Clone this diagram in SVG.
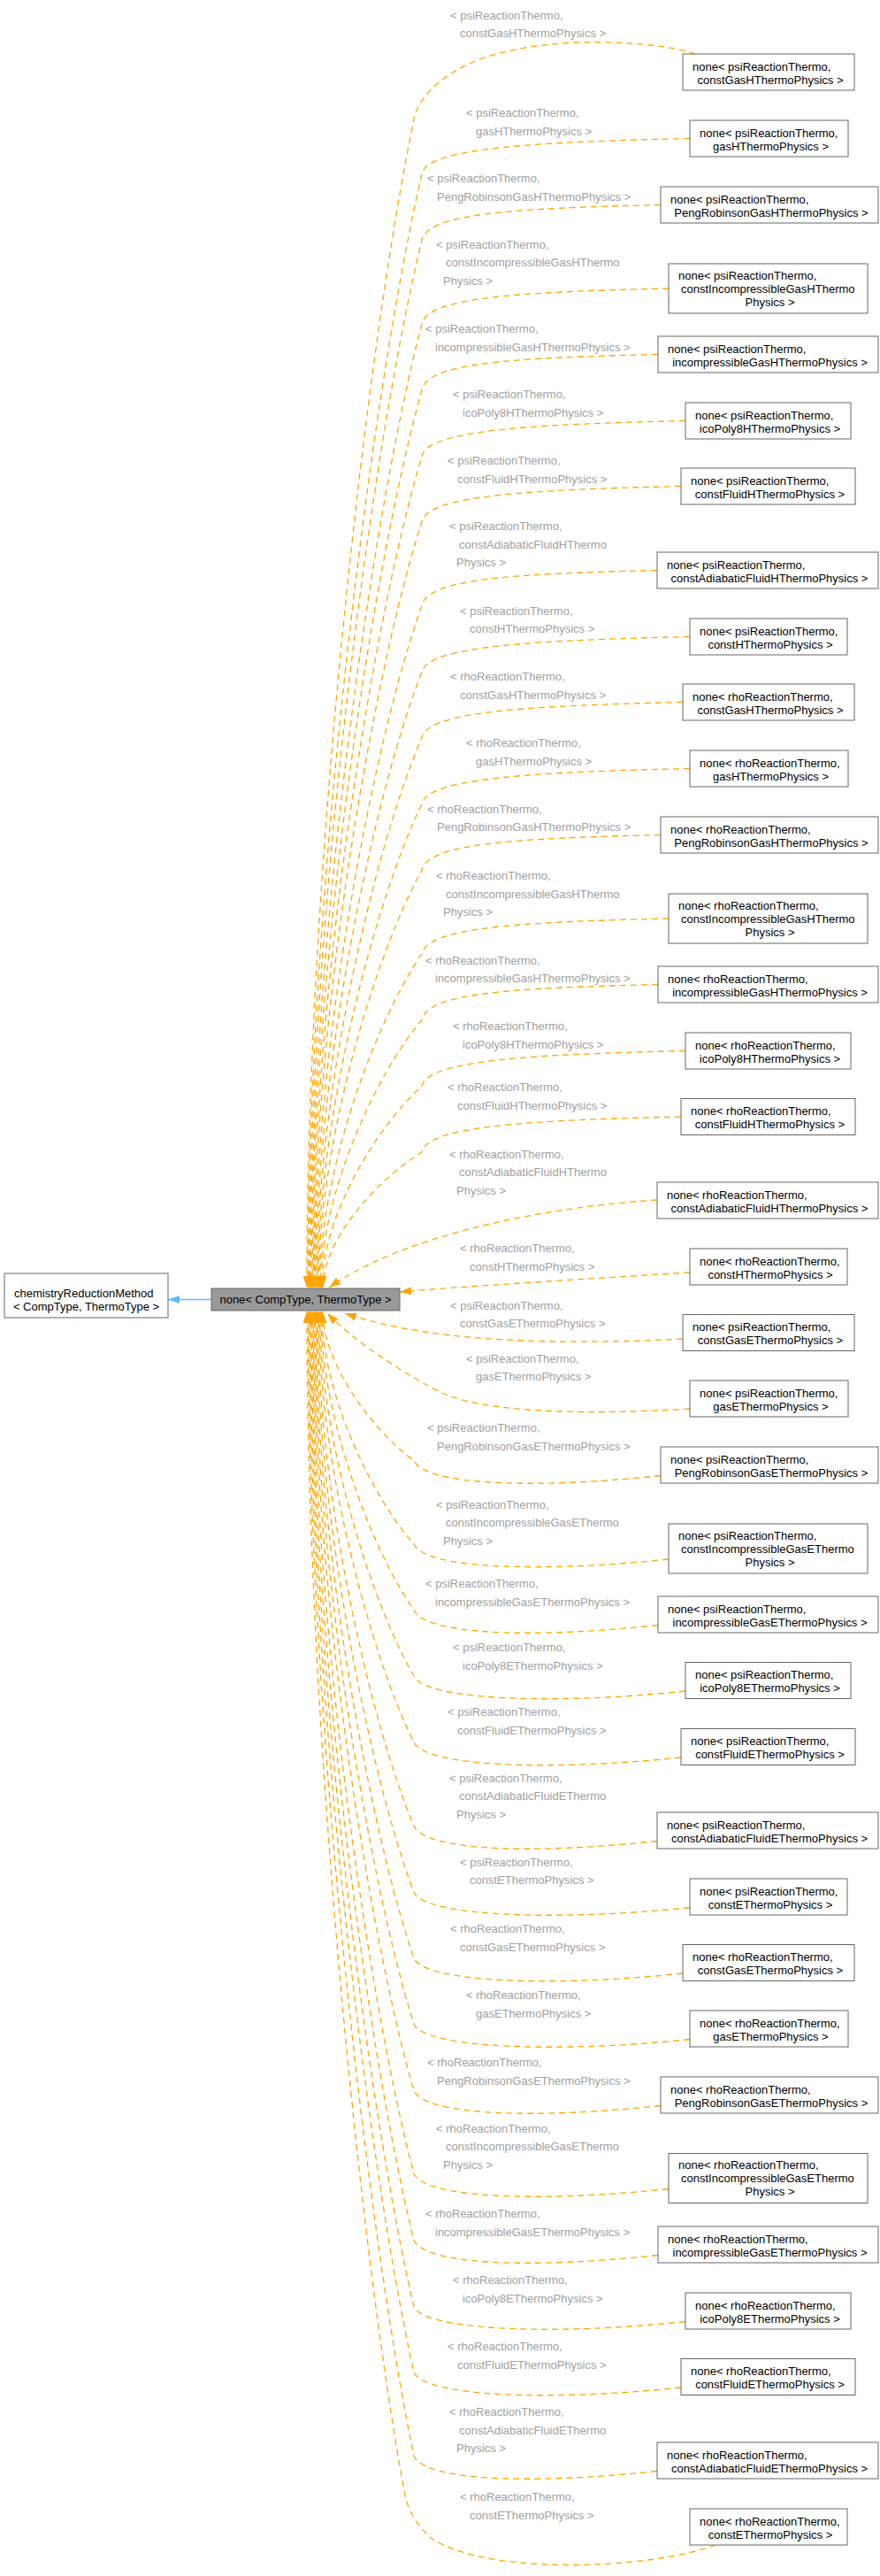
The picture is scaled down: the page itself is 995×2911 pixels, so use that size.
<svg xmlns="http://www.w3.org/2000/svg" width="995" height="2911" viewBox="0 0 995 2911">
<style>
text{font-family:"Liberation Sans",Arial,sans-serif;font-size:13px}
.n{fill:#000}
.l{fill:#a0a0a0}
.m{text-anchor:middle}
.b rect{fill:#fff;stroke:#666;stroke-width:1}
.e{fill:none;stroke:#ffa500;stroke-width:1.3;stroke-dasharray:7,5;marker-end:url(#ao)}
</style>
<defs>
<marker id="ao" markerUnits="userSpaceOnUse" markerWidth="14" markerHeight="10" refX="13" refY="4.5" orient="auto"><path d="M0,0 L13,4.5 L0,9 z" fill="#ffa500"/></marker>
<marker id="ab" markerUnits="userSpaceOnUse" markerWidth="14" markerHeight="10" refX="13" refY="4.5" orient="auto"><path d="M0,0 L13,4.5 L0,9 z" fill="#63b8ff"/></marker>
</defs>
<rect width="995" height="2911" fill="#fff"/>
<g id="connectors">
<path d="M239,1468.5 L190,1468.5" fill="none" stroke="#63b8ff" stroke-width="1.3" marker-end="url(#ab)"/>
<path class="e" d="M786,61 C740,46 620,38 540,68 C500,84 476,108 469,130 C414,393 347,985 347,1455"/>
<path class="e" d="M780,156.5 C610,160.5 483,166.5 477,196.5 C419,448 348,1014.5 348,1455"/>
<path class="e" d="M747,231.5 C577,235.5 483,241.5 477,271.5 C419.6,508 349.4,1040.5 349.4,1455"/>
<path class="e" d="M756,326 C586,330 483,336 477,366 C420,584 350.6,1074 350.6,1455"/>
<path class="e" d="M744,400.5 C574,404.5 483,410.5 477,440.5 C420.4,643.5 351.8,1100 351.8,1455"/>
<path class="e" d="M775,475.5 C605,479.5 483,485.5 477,515.5 C421,703.5 353,1126 353,1455"/>
<path class="e" d="M770,549.5 C600,553.5 483,559.5 477,589.5 C421.5,762.5 354.2,1152 354.2,1455"/>
<path class="e" d="M743,644.5 C573,648.5 483,654.5 477,684.5 C422,838.5 355.4,1185 355.4,1455"/>
<path class="e" d="M780,719.5 C610,723.5 483,729.5 477,759.5 C422.5,898.5 356.6,1211.5 356.6,1455"/>
<path class="e" d="M772,793.5 C602,797.5 483,803.5 477,833.5 C423.5,958 357.8,1237.5 357.8,1455"/>
<path class="e" d="M780,868.5 C610,872.5 483,878.5 477,908.5 C424,1018 359,1263.5 359,1455"/>
<path class="e" d="M747,943.5 C577,947.5 483,953.5 477,983.5 C424.5,1078 360.2,1290 360.2,1455"/>
<path class="e" d="M756,1038 C586,1042 483,1048 477,1078 C425,1153.5 361.4,1323 361.4,1455"/>
<path class="e" d="M744,1112.5 C574,1116.5 483,1122.5 477,1152.5 C425.6,1213 362.6,1349 362.6,1455"/>
<path class="e" d="M775,1187.5 C605,1191.5 483,1197.5 477,1227.5 C426,1273 363.8,1375.5 363.8,1455"/>
<path class="e" d="M770,1262 C600,1266 483,1272 477,1302 C426.6,1332.6 365,1401.5 365,1455"/>
<path class="e" d="M743,1356 C600,1365 450,1400 372,1455"/>
<path class="e" d="M780,1438 C650,1446 520,1454 452,1460"/>
<path class="e" d="M772,1513 C600,1522 470,1512 390,1484"/>
<path class="e" d="M780,1592 C650,1600 540,1595 495,1572 C450,1548 400,1515 370,1484"/>
<path class="e" d="M747,1667.5 C597,1683.5 480,1677.5 468,1650.5 C421.6,1616.8 365,1541 365,1482"/>
<path class="e" d="M756,1762 C606,1778 480,1772 468,1745 C421,1692.4 363.8,1574 363.8,1482"/>
<path class="e" d="M744,1836.5 C594,1852.5 480,1846.5 468,1819.5 C420.6,1752 362.6,1600 362.6,1482"/>
<path class="e" d="M775,1911 C625,1927 480,1921 468,1894 C420,1811.6 361.4,1626 361.4,1482"/>
<path class="e" d="M770,1986 C620,2002 480,1996 468,1969 C419.5,1871.6 360.2,1652.4 360.2,1482"/>
<path class="e" d="M743,2080.5 C593,2096.5 480,2090.5 468,2063.5 C419,1947 359,1685.5 359,1482"/>
<path class="e" d="M780,2155.5 C630,2171.5 480,2165.5 468,2138.5 C418.4,2007 357.8,1712 357.8,1482"/>
<path class="e" d="M772,2230 C622,2246 480,2240 468,2213 C418,2067 356.6,1738 356.6,1482"/>
<path class="e" d="M780,2304.5 C630,2320.5 480,2314.5 468,2287.5 C417.4,2126.5 355.4,1764 355.4,1482"/>
<path class="e" d="M747,2379.5 C597,2395.5 480,2389.5 468,2362.5 C417,2186.5 354.2,1790.5 354.2,1482"/>
<path class="e" d="M756,2473.5 C606,2489.5 480,2483.5 468,2456.5 C416.3,2261.5 353,1823 353,1482"/>
<path class="e" d="M744,2548.5 C594,2564.5 480,2558.5 468,2531.5 C415.8,2321.5 351.8,1849.5 351.8,1482"/>
<path class="e" d="M775,2623.5 C625,2639.5 480,2633.5 468,2606.5 C415.2,2381.5 350.6,1875.5 350.6,1482"/>
<path class="e" d="M770,2698 C620,2714 480,2708 468,2681 C414.7,2441 349.4,1902 349.4,1482"/>
<path class="e" d="M743,2792.5 C593,2808.5 480,2802.5 468,2775.5 C414.2,2516.8 348.2,1934.7 348.2,1482"/>
<path class="e" d="M809,2876 C740,2902 560,2912 490,2870 C475,2858 462,2840 458,2820 C408,2553 347,1953.5 347,1482"/>
<g class="l">
<text x="509" y="21.5">&lt; psiReactionThermo,</text><text x="520" y="41.5">constGasHThermoPhysics &gt;</text>
<text x="527" y="132">&lt; psiReactionThermo,</text><text x="538" y="152.5">gasHThermoPhysics &gt;</text>
<text x="483" y="206">&lt; psiReactionThermo,</text><text x="494" y="226.5">PengRobinsonGasHThermoPhysics &gt;</text>
<text x="493" y="280.5">&lt; psiReactionThermo,</text><text x="504" y="301">constIncompressibleGasHThermo</text><text x="501" y="321.5">Physics &gt;</text>
<text x="481" y="376">&lt; psiReactionThermo,</text><text x="492" y="396.5">incompressibleGasHThermoPhysics &gt;</text>
<text x="512" y="450">&lt; psiReactionThermo,</text><text x="523" y="470.5">icoPoly8HThermoPhysics &gt;</text>
<text x="506" y="525">&lt; psiReactionThermo,</text><text x="517" y="545.5">constFluidHThermoPhysics &gt;</text>
<text x="508" y="599">&lt; psiReactionThermo,</text><text x="519" y="619.5">constAdiabaticFluidHThermo</text><text x="516" y="640">Physics &gt;</text>
<text x="520" y="694.5">&lt; psiReactionThermo,</text><text x="531" y="715">constHThermoPhysics &gt;</text>
<text x="509" y="769">&lt; rhoReactionThermo,</text><text x="520" y="789.5">constGasHThermoPhysics &gt;</text>
<text x="527" y="844">&lt; rhoReactionThermo,</text><text x="538" y="864.5">gasHThermoPhysics &gt;</text>
<text x="483" y="918.5">&lt; rhoReactionThermo,</text><text x="494" y="939">PengRobinsonGasHThermoPhysics &gt;</text>
<text x="493" y="994">&lt; rhoReactionThermo,</text><text x="504" y="1014.5">constIncompressibleGasHThermo</text><text x="501" y="1035">Physics &gt;</text>
<text x="481" y="1089.5">&lt; rhoReactionThermo,</text><text x="492" y="1110">incompressibleGasHThermoPhysics &gt;</text>
<text x="512" y="1164">&lt; rhoReactionThermo,</text><text x="523" y="1184.5">icoPoly8HThermoPhysics &gt;</text>
<text x="506" y="1233">&lt; rhoReactionThermo,</text><text x="517" y="1253.5">constFluidHThermoPhysics &gt;</text>
<text x="508" y="1308.5">&lt; rhoReactionThermo,</text><text x="519" y="1329">constAdiabaticFluidHThermo</text><text x="516" y="1349.5">Physics &gt;</text>
<text x="520" y="1415">&lt; rhoReactionThermo,</text><text x="531" y="1435.5">constHThermoPhysics &gt;</text>
<text x="509" y="1479.5">&lt; psiReactionThermo,</text><text x="520" y="1500">constGasEThermoPhysics &gt;</text>
<text x="527" y="1539.5">&lt; psiReactionThermo,</text><text x="538" y="1560">gasEThermoPhysics &gt;</text>
<text x="483" y="1618">&lt; psiReactionThermo,</text><text x="494" y="1638.5">PengRobinsonGasEThermoPhysics &gt;</text>
<text x="493" y="1704.5">&lt; psiReactionThermo,</text><text x="504" y="1725">constIncompressibleGasEThermo</text><text x="501" y="1745.5">Physics &gt;</text>
<text x="481" y="1794">&lt; psiReactionThermo,</text><text x="492" y="1814.5">incompressibleGasEThermoPhysics &gt;</text>
<text x="512" y="1866">&lt; psiReactionThermo,</text><text x="523" y="1886.5">icoPoly8EThermoPhysics &gt;</text>
<text x="506" y="1939">&lt; psiReactionThermo,</text><text x="517" y="1959.5">constFluidEThermoPhysics &gt;</text>
<text x="508" y="2013.5">&lt; psiReactionThermo,</text><text x="519" y="2034">constAdiabaticFluidEThermo</text><text x="516" y="2054.5">Physics &gt;</text>
<text x="520" y="2108.5">&lt; psiReactionThermo,</text><text x="531" y="2129">constEThermoPhysics &gt;</text>
<text x="509" y="2184">&lt; rhoReactionThermo,</text><text x="520" y="2204.5">constGasEThermoPhysics &gt;</text>
<text x="527" y="2259">&lt; rhoReactionThermo,</text><text x="538" y="2279.5">gasEThermoPhysics &gt;</text>
<text x="483" y="2335">&lt; rhoReactionThermo,</text><text x="494" y="2355.5">PengRobinsonGasEThermoPhysics &gt;</text>
<text x="493" y="2409.5">&lt; rhoReactionThermo,</text><text x="504" y="2430">constIncompressibleGasEThermo</text><text x="501" y="2450.5">Physics &gt;</text>
<text x="481" y="2506">&lt; rhoReactionThermo,</text><text x="492" y="2526.5">incompressibleGasEThermoPhysics &gt;</text>
<text x="512" y="2581">&lt; rhoReactionThermo,</text><text x="523" y="2601.5">icoPoly8EThermoPhysics &gt;</text>
<text x="506" y="2656">&lt; rhoReactionThermo,</text><text x="517" y="2676.5">constFluidEThermoPhysics &gt;</text>
<text x="508" y="2730">&lt; rhoReactionThermo,</text><text x="519" y="2750.5">constAdiabaticFluidEThermo</text><text x="516" y="2771">Physics &gt;</text>
<text x="520" y="2826">&lt; rhoReactionThermo,</text><text x="531" y="2846.5">constEThermoPhysics &gt;</text>
</g>
</g>
<g id="node_base"><rect x="239" y="1456" width="213" height="25" fill="#999" stroke="#666"/><text class="n m" x="345.5" y="1473">none&lt; CompType, ThermoType &gt;</text></g>
<g id="node_chem" class="b"><rect x="5" y="1439" width="185" height="50"/><text class="n" x="16" y="1466">chemistryReductionMethod</text><text class="n m" x="97.5" y="1481">&lt; CompType, ThermoType &gt;</text></g>
<g id="n1" class="b"><rect x="772" y="61" width="194" height="41"/><text class="n" x="783" y="79.5">none&lt; psiReactionThermo,</text><text class="n m" x="871" y="94.5">constGasHThermoPhysics &gt;</text></g>
<g id="n2" class="b"><rect x="780" y="136" width="179" height="41"/><text class="n" x="791" y="154.5">none&lt; psiReactionThermo,</text><text class="n m" x="871.5" y="169.5">gasHThermoPhysics &gt;</text></g>
<g id="n3" class="b"><rect x="747" y="211" width="246" height="41"/><text class="n" x="758" y="229.5">none&lt; psiReactionThermo,</text><text class="n m" x="872" y="244.5">PengRobinsonGasHThermoPhysics &gt;</text></g>
<g id="n4" class="b"><rect x="756" y="298" width="225" height="56"/><text class="n" x="767" y="315.5">none&lt; psiReactionThermo,</text><text class="n" x="770" y="330.5">constIncompressibleGasHThermo</text><text class="n m" x="870.5" y="345.5">Physics &gt;</text></g>
<g id="n5" class="b"><rect x="744" y="380" width="249" height="41"/><text class="n" x="755" y="398.5">none&lt; psiReactionThermo,</text><text class="n m" x="870.5" y="413.5">incompressibleGasHThermoPhysics &gt;</text></g>
<g id="n6" class="b"><rect x="775" y="455" width="187" height="41"/><text class="n" x="786" y="473.5">none&lt; psiReactionThermo,</text><text class="n m" x="870.5" y="488.5">icoPoly8HThermoPhysics &gt;</text></g>
<g id="n7" class="b"><rect x="770" y="529" width="197" height="41"/><text class="n" x="781" y="547.5">none&lt; psiReactionThermo,</text><text class="n m" x="870.5" y="562.5">constFluidHThermoPhysics &gt;</text></g>
<g id="n8" class="b"><rect x="743" y="624" width="250" height="41"/><text class="n" x="754" y="642.5">none&lt; psiReactionThermo,</text><text class="n m" x="870" y="657.5">constAdiabaticFluidHThermoPhysics &gt;</text></g>
<g id="n9" class="b"><rect x="780" y="699" width="178" height="41"/><text class="n" x="791" y="717.5">none&lt; psiReactionThermo,</text><text class="n m" x="871" y="732.5">constHThermoPhysics &gt;</text></g>
<g id="n10" class="b"><rect x="772" y="773" width="194" height="41"/><text class="n" x="783" y="791.5">none&lt; rhoReactionThermo,</text><text class="n m" x="871" y="806.5">constGasHThermoPhysics &gt;</text></g>
<g id="n11" class="b"><rect x="780" y="848" width="179" height="41"/><text class="n" x="791" y="866.5">none&lt; rhoReactionThermo,</text><text class="n m" x="871.5" y="881.5">gasHThermoPhysics &gt;</text></g>
<g id="n12" class="b"><rect x="747" y="923" width="246" height="41"/><text class="n" x="758" y="941.5">none&lt; rhoReactionThermo,</text><text class="n m" x="872" y="956.5">PengRobinsonGasHThermoPhysics &gt;</text></g>
<g id="n13" class="b"><rect x="756" y="1010" width="225" height="56"/><text class="n" x="767" y="1027.5">none&lt; rhoReactionThermo,</text><text class="n" x="770" y="1042.5">constIncompressibleGasHThermo</text><text class="n m" x="870.5" y="1057.5">Physics &gt;</text></g>
<g id="n14" class="b"><rect x="744" y="1092" width="249" height="41"/><text class="n" x="755" y="1110.5">none&lt; rhoReactionThermo,</text><text class="n m" x="870.5" y="1125.5">incompressibleGasHThermoPhysics &gt;</text></g>
<g id="n15" class="b"><rect x="775" y="1167" width="187" height="41"/><text class="n" x="786" y="1185.5">none&lt; rhoReactionThermo,</text><text class="n m" x="870.5" y="1200.5">icoPoly8HThermoPhysics &gt;</text></g>
<g id="n16" class="b"><rect x="770" y="1241.5" width="197" height="41"/><text class="n" x="781" y="1260">none&lt; rhoReactionThermo,</text><text class="n m" x="870.5" y="1275">constFluidHThermoPhysics &gt;</text></g>
<g id="n17" class="b"><rect x="743" y="1336" width="250" height="41"/><text class="n" x="754" y="1354.5">none&lt; rhoReactionThermo,</text><text class="n m" x="870" y="1369.5">constAdiabaticFluidHThermoPhysics &gt;</text></g>
<g id="n18" class="b"><rect x="780" y="1411" width="178" height="41"/><text class="n" x="791" y="1429.5">none&lt; rhoReactionThermo,</text><text class="n m" x="871" y="1444.5">constHThermoPhysics &gt;</text></g>
<g id="n19" class="b"><rect x="772" y="1485.5" width="194" height="41"/><text class="n" x="783" y="1504">none&lt; psiReactionThermo,</text><text class="n m" x="871" y="1519">constGasEThermoPhysics &gt;</text></g>
<g id="n20" class="b"><rect x="780" y="1560" width="179" height="41"/><text class="n" x="791" y="1578.5">none&lt; psiReactionThermo,</text><text class="n m" x="871.5" y="1593.5">gasEThermoPhysics &gt;</text></g>
<g id="n21" class="b"><rect x="747" y="1635" width="246" height="41"/><text class="n" x="758" y="1653.5">none&lt; psiReactionThermo,</text><text class="n m" x="872" y="1668.5">PengRobinsonGasEThermoPhysics &gt;</text></g>
<g id="n22" class="b"><rect x="756" y="1722" width="225" height="56"/><text class="n" x="767" y="1739.5">none&lt; psiReactionThermo,</text><text class="n" x="770" y="1754.5">constIncompressibleGasEThermo</text><text class="n m" x="870.5" y="1769.5">Physics &gt;</text></g>
<g id="n23" class="b"><rect x="744" y="1804" width="249" height="41"/><text class="n" x="755" y="1822.5">none&lt; psiReactionThermo,</text><text class="n m" x="870.5" y="1837.5">incompressibleGasEThermoPhysics &gt;</text></g>
<g id="n24" class="b"><rect x="775" y="1878.5" width="187" height="41"/><text class="n" x="786" y="1897">none&lt; psiReactionThermo,</text><text class="n m" x="870.5" y="1912">icoPoly8EThermoPhysics &gt;</text></g>
<g id="n25" class="b"><rect x="770" y="1953.5" width="197" height="41"/><text class="n" x="781" y="1972">none&lt; psiReactionThermo,</text><text class="n m" x="870.5" y="1987">constFluidEThermoPhysics &gt;</text></g>
<g id="n26" class="b"><rect x="743" y="2048" width="250" height="41"/><text class="n" x="754" y="2066.5">none&lt; psiReactionThermo,</text><text class="n m" x="870" y="2081.5">constAdiabaticFluidEThermoPhysics &gt;</text></g>
<g id="n27" class="b"><rect x="780" y="2123" width="178" height="41"/><text class="n" x="791" y="2141.5">none&lt; psiReactionThermo,</text><text class="n m" x="871" y="2156.5">constEThermoPhysics &gt;</text></g>
<g id="n28" class="b"><rect x="772" y="2197.5" width="194" height="41"/><text class="n" x="783" y="2216">none&lt; rhoReactionThermo,</text><text class="n m" x="871" y="2231">constGasEThermoPhysics &gt;</text></g>
<g id="n29" class="b"><rect x="780" y="2272" width="179" height="41"/><text class="n" x="791" y="2290.5">none&lt; rhoReactionThermo,</text><text class="n m" x="871.5" y="2305.5">gasEThermoPhysics &gt;</text></g>
<g id="n30" class="b"><rect x="747" y="2347" width="246" height="41"/><text class="n" x="758" y="2365.5">none&lt; rhoReactionThermo,</text><text class="n m" x="872" y="2380.5">PengRobinsonGasEThermoPhysics &gt;</text></g>
<g id="n31" class="b"><rect x="756" y="2433.5" width="225" height="56"/><text class="n" x="767" y="2451">none&lt; rhoReactionThermo,</text><text class="n" x="770" y="2466">constIncompressibleGasEThermo</text><text class="n m" x="870.5" y="2481">Physics &gt;</text></g>
<g id="n32" class="b"><rect x="744" y="2516" width="249" height="41"/><text class="n" x="755" y="2534.5">none&lt; rhoReactionThermo,</text><text class="n m" x="870.5" y="2549.5">incompressibleGasEThermoPhysics &gt;</text></g>
<g id="n33" class="b"><rect x="775" y="2591" width="187" height="41"/><text class="n" x="786" y="2609.5">none&lt; rhoReactionThermo,</text><text class="n m" x="870.5" y="2624.5">icoPoly8EThermoPhysics &gt;</text></g>
<g id="n34" class="b"><rect x="770" y="2665.5" width="197" height="41"/><text class="n" x="781" y="2684">none&lt; rhoReactionThermo,</text><text class="n m" x="870.5" y="2699">constFluidEThermoPhysics &gt;</text></g>
<g id="n35" class="b"><rect x="743" y="2760" width="250" height="41"/><text class="n" x="754" y="2778.5">none&lt; rhoReactionThermo,</text><text class="n m" x="870" y="2793.5">constAdiabaticFluidEThermoPhysics &gt;</text></g>
<g id="n36" class="b"><rect x="780" y="2835" width="178" height="41"/><text class="n" x="791" y="2853.5">none&lt; rhoReactionThermo,</text><text class="n m" x="871" y="2868.5">constEThermoPhysics &gt;</text></g>
</svg>
